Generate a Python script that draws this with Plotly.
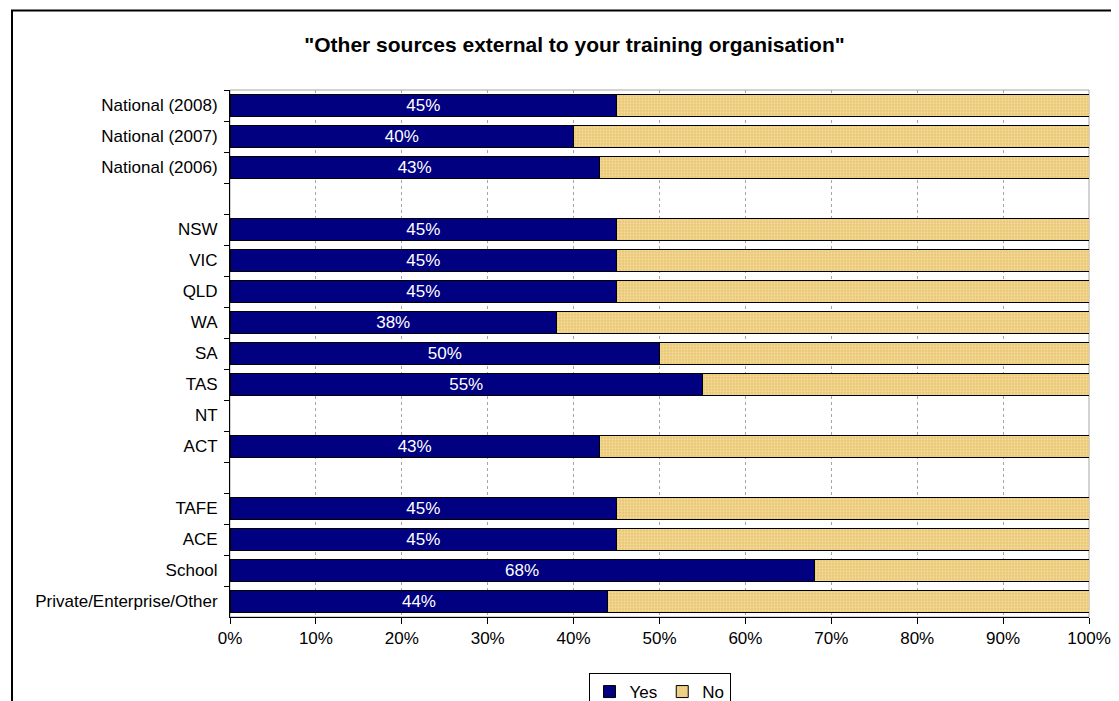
import plotly.graph_objects as go

# colours
yes_color = "#000080"
no_color = "#EDCC7C"

# ------------------------------
# Data
# ------------------------------

categories = [
    "National (2008)",
    "National (2007)",
    "National (2006)",
    " ",
    "NSW",
    "VIC",
    "QLD",
    "WA",
    "SA",
    "TAS",
    "NT",
    "ACT",
    "  ",
    "TAFE",
    "ACE",
    "School",
    "Private/Enterprise/Other",
]
yes_values = [45, 40, 43, None, 45, 45, 45, 38, 50, 55, None, 43, None, 45, 45, 68, 44]
no_values = [55, 60, 57, None, 55, 55, 55, 62, 50, 45, None, 57, None, 55, 55, 32, 56]
x_ticks = [0, 10, 20, 30, 40, 50, 60, 70, 80, 90, 100]

yes_text = ["" if v is None else "{0:.0f}%".format(v) for v in yes_values]

# page body has an 8px margin, so the figure is laid out 8px smaller
W, H = 1111, 693
plot_l, plot_r, plot_t, plot_b = 222, 1081, 82, 609

# ------------------------------
# Figure
# ------------------------------

fig = go.Figure()
fig.add_bar(
    y=categories,
    x=yes_values,
    name="Yes",
    orientation="h",
    marker=dict(color=yes_color, line=dict(color="black", width=1)),
    text=yes_text,
    textposition="inside",
    insidetextanchor="middle",
    textfont=dict(color="white", size=17),
)
fig.add_bar(
    y=categories,
    x=no_values,
    name="No",
    orientation="h",
    marker=dict(
        color=no_color,
        line=dict(color="black", width=1),
        pattern=dict(shape=".", fgcolor="#FBF0CC", bgcolor="#E9C670", size=3, solidity=0.45),
    ),
)

fig.update_layout(
    barmode="stack",
    bargap=0.31,
    width=W,
    height=H,
    margin=dict(l=plot_l, r=W - plot_r, t=plot_t, b=H - plot_b, autoexpand=False),
    paper_bgcolor="white",
    plot_bgcolor="white",
    font=dict(family="Liberation Sans, Arial", size=17, color="black"),
    title=dict(
        text='<b>"Other sources external to your training organisation"</b>',
        font=dict(size=21, color="black"),
        x=566.5 / W,
        xref="container",
        xanchor="center",
        y=1 - 37 / H,
        yref="container",
        yanchor="middle",
    ),
    showlegend=True,
    legend=dict(
        orientation="h",
        x=0.5,
        xanchor="center",
        y=(plot_b - 665) / (plot_b - plot_t),
        yanchor="top",
        bordercolor="black",
        borderwidth=1,
        bgcolor="white",
        font=dict(size=17),
        traceorder="normal",
        itemwidth=30,
    ),
    uniformtext=dict(minsize=17, mode="show"),
)

fig.update_xaxes(
    range=[0, 100],
    tickvals=x_ticks,
    ticktext=["{0}%".format(t) for t in x_ticks],
    ticks="outside",
    ticklen=6,
    tickcolor="black",
    showline=True,
    linecolor="black",
    linewidth=1,
    showgrid=True,
    gridcolor="#A6A6A6",
    griddash="3px,3px",
    gridwidth=1,
    zeroline=False,
    fixedrange=True,
)
fig.update_yaxes(
    type="category",
    autorange="reversed",
    ticks="outside",
    tickson="boundaries",
    ticklen=5,
    tickcolor="black",
    ticklabelstandoff=8,
    showline=True,
    linecolor="black",
    linewidth=1,
    showgrid=False,
    fixedrange=True,
)

# plot-area frame (light grey) and outer chart border
fig.add_shape(
    type="rect", xref="paper", yref="paper", x0=0, x1=1, y0=0, y1=1,
    line=dict(color="#A6A6A6", width=1), layer="below",
)
fig.add_shape(
    type="rect", xref="paper", yref="paper",
    x0=(4 - plot_l) / (plot_r - plot_l), x1=1.2,
    y0=-0.3, y1=(plot_b - 2.5) / (plot_b - plot_t),
    line=dict(color="black", width=2), layer="below",
)

fig.write_html("out.html")
